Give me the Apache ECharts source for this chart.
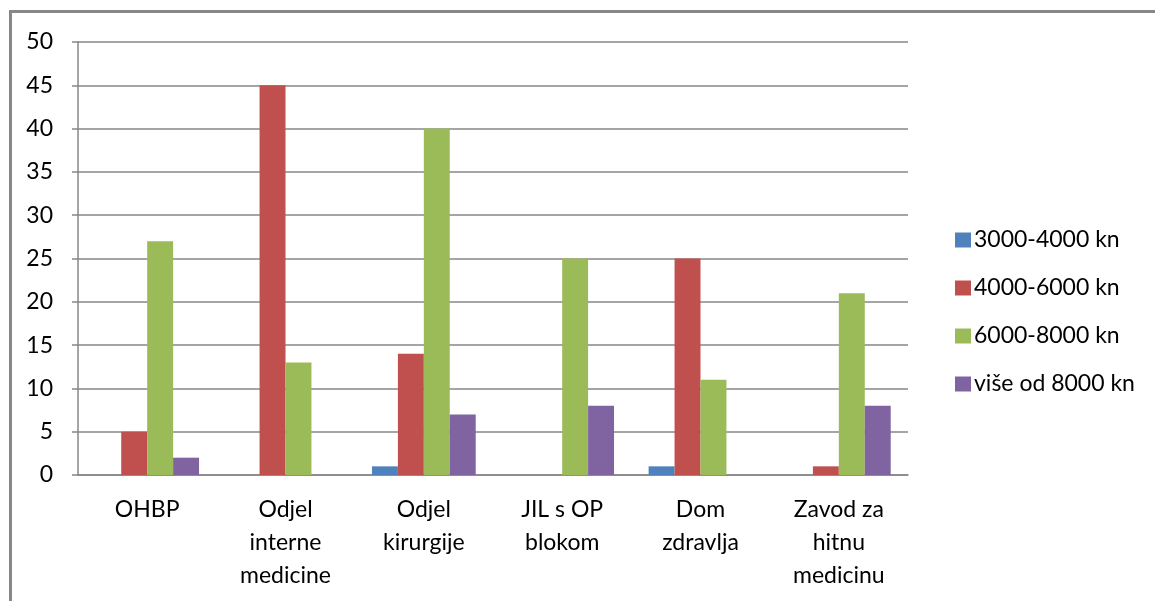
<!DOCTYPE html>
<html>
<head>
<meta charset="utf-8">
<script src="https://cdn.jsdelivr.net/npm/echarts@6/dist/echarts.min.js"></script>
<style>html,body{margin:0;padding:0;background:#fff;}#c{width:1155px;height:601px;}</style>
</head>
<body>
<div id="c"></div>
<script>
const categories = ['OHBP', 'Odjel\ninterne\nmedicine', 'Odjel\nkirurgije', 'JIL s OP\nblokom', 'Dom\nzdravlja', 'Zavod za\nhitnu\nmedicinu'];
const seriesNames = ['3000-4000 kn', '4000-6000 kn', '6000-8000 kn', 'više od 8000 kn'];
const s3000_4000 = [0, 0, 1, 0, 1, 0];
const s4000_6000 = [5, 45, 14, 0, 25, 1];
const s6000_8000 = [27, 13, 40, 25, 11, 21];
const sOver8000 = [2, 0, 7, 8, 0, 8];
const colors = ['#4F81BD', '#C0504D', '#9BBB59', '#8064A2'];
const yTicks = [0, 5, 10, 15, 20, 25, 30, 35, 40, 45, 50];

const font = 'Lato';
const chart = echarts.init(document.getElementById('c'));
const data = [s3000_4000, s4000_6000, s6000_8000, sOver8000];
chart.setOption({
  animation: false,
  backgroundColor: '#fff',
  color: colors,
  graphic: [{
    type: 'rect', silent: true,
    shape: { x: 10.5, y: 11.5, width: 1160, height: 610 },
    style: { fill: 'none', stroke: '#878787', lineWidth: 3 }
  }],
  grid: { left: 78, right: 247, top: 42, bottom: 126, containLabel: false },
  legend: {
    orient: 'vertical', left: 950, top: 223,
    itemWidth: 16, itemHeight: 15, itemGap: 24, itemStyle: { borderWidth: 0 },
    icon: 'rect',
    textStyle: { fontFamily: font, fontSize: 23, lineHeight: 24, color: '#000', padding: [0, 0, 0, -2] },
    data: seriesNames
  },
  xAxis: {
    type: 'category',
    data: categories,
    axisLine: { lineStyle: { color: '#878787', width: 1.5 } },
    axisTick: { length: 8, lineStyle: { color: '#878787', width: 1.5 } },
    axisLabel: { interval: 0, margin: 18, fontFamily: font, fontSize: 23, color: '#000', lineHeight: 33 }
  },
  yAxis: {
    type: 'value', min: 0, max: 50, interval: 5,
    axisLine: { show: true, lineStyle: { color: '#878787', width: 1.5 } },
    axisTick: { show: true, length: 6, lineStyle: { color: '#878787', width: 1.5 } },
    splitLine: { lineStyle: { color: '#878787', width: 1.5 } },
    axisLabel: { margin: 25, fontFamily: font, fontSize: 23, color: '#000',
      formatter: v => yTicks.includes(v) ? String(v) : '' }
  },
  series: seriesNames.map((n, i) => ({
    name: n, type: 'bar', data: data[i],
    barGap: '0%', barCategoryGap: '25%',
    itemStyle: { color: colors[i] }
  }))
});
</script>
</body>
</html>
